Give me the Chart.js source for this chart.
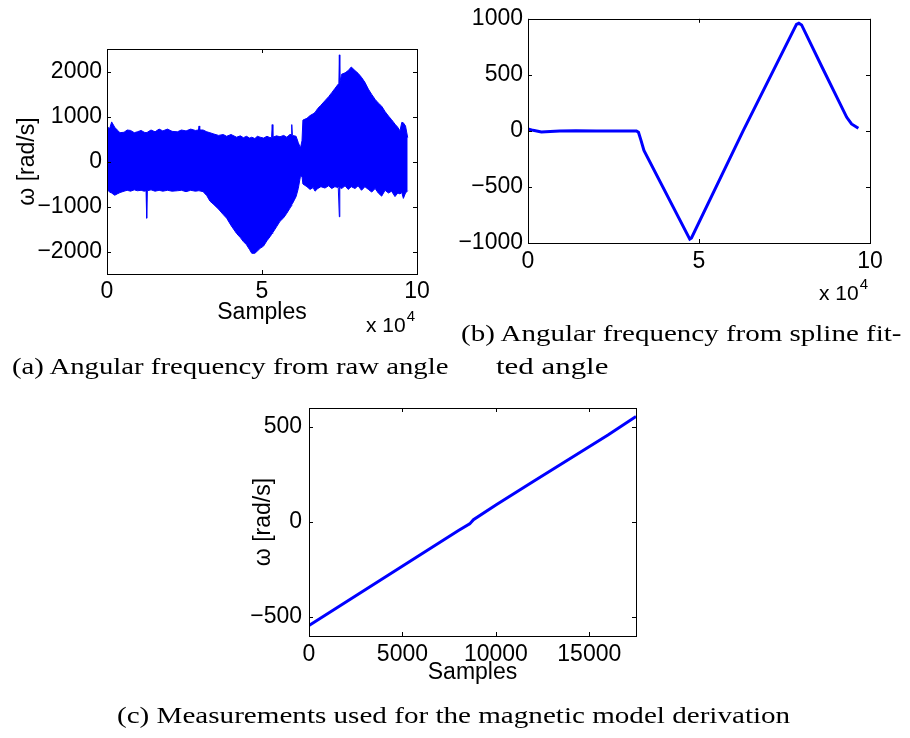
<!DOCTYPE html>
<html>
<head>
<meta charset="utf-8">
<script src="https://cdn.jsdelivr.net/npm/chart.js@4.4.1/dist/chart.umd.min.js"></script>
<style>
    html, body { margin: 0; padding: 0; background: #fff; }
    #page { position: relative; width: 910px; height: 738px; overflow: hidden; }
    #page canvas { position: absolute; left: 0; top: 0; }
    .cap {
        position: absolute;
        font: 24px "Liberation Serif", "Times New Roman", serif;
        line-height: 1;
        white-space: nowrap;
        transform-origin: 0 0;
        color: #000;
    }
</style>
</head>
<body>
<div id="page">
    <canvas id="chartA" width="910" height="738"></canvas>
    <canvas id="chartB" width="910" height="738"></canvas>
    <canvas id="chartC" width="910" height="738"></canvas>
    <div class="cap" id="capA">(a) Angular frequency from raw angle</div>
    <div class="cap" id="capB1">(b) Angular frequency from spline fit-</div>
    <div class="cap" id="capB2">ted angle</div>
    <div class="cap" id="capC">(c) Measurements used for the magnetic model derivation</div>
</div>
<script>
/* ---------- data ---------- */

// (a) raw angle derivative: noisy band, upper / lower envelope per sample
const A_SAMPLES = [
    0, 800, 1500, 2500, 3300, 4200, 5500, 6500, 7600, 8800, 9800, 11000, 12000, 12600, 12800, 13000,
    14200, 15500, 16800, 18000, 19500, 21000, 22700, 24000, 25500, 27000, 28500, 29500, 29700, 29900, 31000, 32200,
    33200, 34500, 36000, 37500, 38600, 40000, 41800, 43000, 44000, 45000, 46000, 46700, 47700, 48500,
    49400, 50500, 51600, 52600, 53100, 53300, 53500, 54700, 55800, 57000, 58000, 59000, 59400, 59600, 59800, 61000,
    61700, 62400, 62900, 63200, 64500, 65500, 66500, 67100, 68000, 69000, 70300, 71500, 72500, 73500,
    74600, 74800, 74950, 75100, 75700, 76800, 77800, 78800, 80000, 81000, 82100, 83200, 84300, 85400, 86500,
    87500, 88600, 89700, 90800, 91800, 92900, 93800, 94500, 95100, 95600, 96300, 97000,
];
const A_UPPER = [
    790, 720, 880, 760, 700, 640, 650, 700, 690, 640, 660, 690, 650, 640, 640, 650,
    700, 660, 720, 680, 720, 670, 660, 700, 680, 720, 690, 700, 790, 700, 700, 660,
    640, 610, 580, 600, 560, 600, 540, 570, 530, 560, 520, 540, 510, 560,
    540, 520, 560, 530, 540, 820, 540, 570, 550, 580, 540, 600, 600, 820, 580, 560,
    420, 300, 460, 920, 960, 1020, 1060, 1090, 1180, 1250, 1350, 1440, 1530, 1620,
    1720, 1740, 2370, 1760, 1940, 1970, 2020, 2100, 2020, 1960, 1870, 1760, 1610, 1490, 1380,
    1300, 1230, 1110, 1010, 930, 830, 760, 680, 870, 860, 790, 530,
];
const A_LOWER = [
    -600, -680, -700, -750, -720, -690, -660, -640, -660, -630, -650, -640, -660, -650, -1260, -650,
    -630, -660, -640, -660, -640, -660, -650, -640, -670, -640, -660, -650, -650, -650, -670, -760,
    -880, -960, -1060, -1180, -1260, -1420, -1600, -1690, -1780, -1850, -1960, -2040, -2040, -1990,
    -1930, -1880, -1760, -1670, -1620, -1600, -1580, -1450, -1330, -1250, -1150, -1040, -990, -960, -940, -780,
    -600, -330, -330, -500, -560, -620, -580, -660, -600, -560, -590, -540, -600, -560,
    -580, -580, -1230, -580, -600, -540, -620, -560, -600, -540, -640, -560, -620, -680, -600,
    -700, -770, -640, -700, -660, -780, -700, -720, -690, -820, -700, -650,
];

// (b) spline fitted angle derivative
const B_SAMPLES = [
    0, 1500, 3900, 6500, 9300, 14000, 20000, 26000, 31700, 32300, 33000, 33900,
    47300, 47800, 62900, 78500, 79200, 80000, 86000, 93200, 94600, 96600,
];
const B_OMEGA = [
    18, 5, -9, -5, 0, 2, 0, 0, 0, -12, -80, -174,
    -965, -955, 0, 950, 960, 945, 568, 121, 62, 24,
];

// (c) measurements for the magnetic model
const C_SAMPLES = [0, 2000, 4000, 6000, 8000, 8600, 8800, 10000, 12000, 14000, 16000, 17500];
const C_OMEGA = [-545, -420, -295, -170, -45, -10, 12, 90, 213, 336, 458, 555];

// ticks
const AB_X_TICKS = [0, 50000, 100000];
const A_Y_TICKS = [-2000, -1000, 0, 1000, 2000];
const B_Y_TICKS = [-1000, -500, 0, 500, 1000];
const C_X_TICKS = [0, 5000, 10000, 15000];
const C_Y_TICKS = [-500, 0, 500];

const Y_TITLE = '\u03C9 [rad/s]';
const X_TITLE = 'Samples';

/* ---------- styling ---------- */

const BLUE = '#0000ff';
const TICK_FONT = { family: '"Liberation Sans", Arial, sans-serif', size: 23 };

Chart.defaults.color = '#000';
Chart.defaults.font.family = TICK_FONT.family;

const signed = v => (v < 0 ? '\u2212' : '') + Math.abs(v);

// frame around the plot with inward tick marks on all four sides
const matlabBox = {
    id: 'matlabBox',
    afterDatasetsDraw(chart) {
        const { ctx, chartArea: a, scales: { x, y } } = chart;
        const tl = 4;
        ctx.save();
        ctx.strokeStyle = '#000';
        ctx.lineWidth = 1;
        ctx.beginPath();
        x.ticks.forEach(t => {
            const px = Math.round(x.getPixelForValue(t.value)) + 0.5;
            ctx.moveTo(px, a.bottom); ctx.lineTo(px, a.bottom - tl);
            ctx.moveTo(px, a.top); ctx.lineTo(px, a.top + tl);
        });
        y.ticks.forEach(t => {
            const py = Math.round(y.getPixelForValue(t.value)) + 0.5;
            ctx.moveTo(a.left, py); ctx.lineTo(a.left + tl, py);
            ctx.moveTo(a.right, py); ctx.lineTo(a.right - tl, py);
        });
        ctx.stroke();
        ctx.strokeRect(Math.round(a.left) + 0.5, Math.round(a.top) + 0.5,
            Math.round(a.right - a.left), Math.round(a.bottom - a.top));
        ctx.restore();
    },
};

// the "x 10^4" multiplier under the right end of the x axis
const exponentLabel = {
    id: 'exponentLabel',
    afterDraw(chart, args, opts) {
        if (!opts.dy) return;
        const { ctx, chartArea: a } = chart;
        const right = a.right - 2;
        const base = a.bottom + opts.dy;
        ctx.save();
        ctx.fillStyle = '#000';
        ctx.textAlign = 'right';
        ctx.textBaseline = 'alphabetic';
        ctx.font = '15px "Liberation Sans", Arial, sans-serif';
        ctx.fillText('4', right, base - 11);
        const w = ctx.measureText('4').width;
        ctx.font = '21px "Liberation Sans", Arial, sans-serif';
        ctx.fillText('x 10', right - w - 1, base);
        ctx.restore();
    },
};

function boxScales(g) {
    return {
        x: {
            type: 'linear',
            min: g.xMin, max: g.xMax,
            afterBuildTicks: s => { s.ticks = g.xTicks.map(v => ({ value: v })); },
            afterFit: s => { s.height = g.xHeight; },
            ticks: { font: TICK_FONT, padding: g.xPad, maxRotation: 0, autoSkip: false, callback: g.xFmt },
            grid: { display: false, drawTicks: false },
            border: { display: false },
            title: { display: !!g.xTitle, text: g.xTitle, font: TICK_FONT, padding: { top: 0, bottom: 0 } },
        },
        y: {
            type: 'linear',
            min: g.yMin, max: g.yMax,
            afterBuildTicks: s => { s.ticks = g.yTicks.map(v => ({ value: v })); },
            afterFit: s => { s.width = g.yWidth; },
            ticks: { font: TICK_FONT, padding: g.yPad, autoSkip: false, callback: signed },
            grid: { display: false, drawTicks: false },
            border: { display: false },
            title: { display: !!g.yTitle, text: g.yTitle, font: TICK_FONT, padding: { top: 0, bottom: 0 } },
        },
    };
}

function makeChart(id, datasets, g) {
    return new Chart(document.getElementById(id), {
        type: 'line',
        data: { datasets },
        plugins: [matlabBox, exponentLabel],
        options: {
            responsive: false,
            animation: false,
            events: [],
            layout: { padding: g.pad },
            elements: { point: { radius: 0 }, line: { tension: 0 } },
            plugins: {
                legend: { display: false },
                tooltip: { enabled: false },
                exponentLabel: { dy: g.expDy || 0 },
            },
            scales: boxScales(g),
        },
    });
}

const pts = (xs, ys) => xs.map((x, i) => ({ x, y: ys[i] }));
const per1e4 = v => String(v / 10000);

/* ---------- (a) ---------- */
makeChart('chartA', [
    { data: pts(A_SAMPLES, A_UPPER), borderColor: BLUE, backgroundColor: BLUE, borderWidth: 1, fill: '+1' },
    { data: pts(A_SAMPLES, A_LOWER), borderColor: BLUE, backgroundColor: BLUE, borderWidth: 1, fill: false },
], {
    pad: { left: 14, top: 49, right: 493, bottom: 412 },
    xMin: 0, xMax: 100000, xTicks: AB_X_TICKS, xFmt: per1e4, xHeight: 52, xPad: 4, xTitle: X_TITLE,
    yMin: -2500, yMax: 2500, yTicks: A_Y_TICKS, yWidth: 93, yPad: 5, yTitle: Y_TITLE,
    expDy: 58,
});

/* ---------- (b) ---------- */
makeChart('chartB', [
    { data: pts(B_SAMPLES, B_OMEGA), borderColor: BLUE, borderWidth: 3, fill: false },
], {
    pad: { left: 440, top: 17, right: 40, bottom: 455 },
    xMin: 0, xMax: 100000, xTicks: AB_X_TICKS, xFmt: per1e4, xHeight: 40, xPad: 5,
    yMin: -1000, yMax: 1000, yTicks: B_Y_TICKS, yWidth: 88, yPad: 5,
    expDy: 57,
});

/* ---------- (c) ---------- */
makeChart('chartC', [
    { data: pts(C_SAMPLES, C_OMEGA), borderColor: BLUE, borderWidth: 3, fill: false },
], {
    pad: { left: 250, top: 408, right: 274, bottom: 52 },
    xMin: 0, xMax: 17500, xTicks: C_X_TICKS, xFmt: v => String(v), xHeight: 50, xPad: 5, xTitle: X_TITLE,
    yMin: -600, yMax: 600, yTicks: C_Y_TICKS, yWidth: 59, yPad: 7, yTitle: Y_TITLE,
});

/* ---------- captions: left edge, baseline, fitted width ---------- */
function placeCaption(id, left, baseline, width) {
    const el = document.getElementById(id);
    el.style.left = left + 'px';
    el.style.top = (baseline - 20) + 'px';
    el.style.transform = 'scaleX(' + (width / el.offsetWidth) + ')';
}
placeCaption('capA', 12, 374, 437);
placeCaption('capB1', 461, 341, 441);
placeCaption('capB2', 496, 374, 112);
placeCaption('capC', 117, 723, 673);
</script>
</body>
</html>
